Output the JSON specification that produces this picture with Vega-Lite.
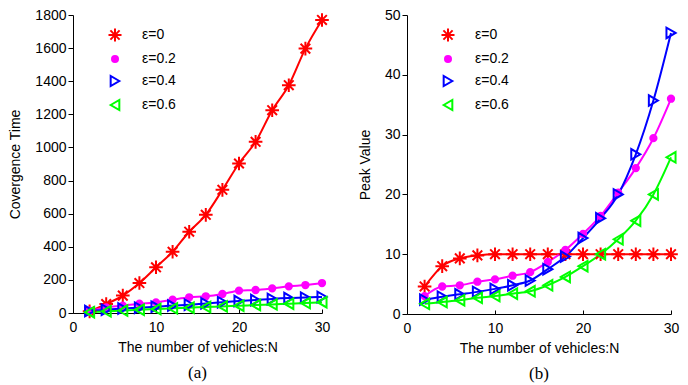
{
  "$schema": "https://vega.github.io/schema/vega-lite/v6.json",
  "padding": {"left": 8, "top": 8, "right": 4, "bottom": 2},
  "spacing": 25,
  "datasets": {
    "conv": [
      {"N":2,"eps":"ε=0","v":10},{"N":4,"eps":"ε=0","v":54},{"N":6,"eps":"ε=0","v":105},{"N":8,"eps":"ε=0","v":181},{"N":10,"eps":"ε=0","v":276},{"N":12,"eps":"ε=0","v":370},{"N":14,"eps":"ε=0","v":491},{"N":16,"eps":"ε=0","v":593},{"N":18,"eps":"ε=0","v":744},{"N":20,"eps":"ε=0","v":903},{"N":22,"eps":"ε=0","v":1034},{"N":24,"eps":"ε=0","v":1225},{"N":26,"eps":"ε=0","v":1376},{"N":28,"eps":"ε=0","v":1597},{"N":30,"eps":"ε=0","v":1770},
      {"N":2,"eps":"ε=0.2","v":14},{"N":4,"eps":"ε=0.2","v":34},{"N":6,"eps":"ε=0.2","v":44},{"N":8,"eps":"ε=0.2","v":56},{"N":10,"eps":"ε=0.2","v":64},{"N":12,"eps":"ε=0.2","v":80},{"N":14,"eps":"ε=0.2","v":95},{"N":16,"eps":"ε=0.2","v":101},{"N":18,"eps":"ε=0.2","v":115},{"N":20,"eps":"ε=0.2","v":135},{"N":22,"eps":"ε=0.2","v":139},{"N":24,"eps":"ε=0.2","v":149},{"N":26,"eps":"ε=0.2","v":161},{"N":28,"eps":"ε=0.2","v":169},{"N":30,"eps":"ε=0.2","v":181},
      {"N":2,"eps":"ε=0.4","v":12},{"N":4,"eps":"ε=0.4","v":20},{"N":6,"eps":"ε=0.4","v":27},{"N":8,"eps":"ε=0.4","v":32},{"N":10,"eps":"ε=0.4","v":38},{"N":12,"eps":"ε=0.4","v":45},{"N":14,"eps":"ε=0.4","v":50},{"N":16,"eps":"ε=0.4","v":58},{"N":18,"eps":"ε=0.4","v":65},{"N":20,"eps":"ε=0.4","v":72},{"N":22,"eps":"ε=0.4","v":78},{"N":24,"eps":"ε=0.4","v":85},{"N":26,"eps":"ε=0.4","v":90},{"N":28,"eps":"ε=0.4","v":93},{"N":30,"eps":"ε=0.4","v":97},
      {"N":2,"eps":"ε=0.6","v":5},{"N":4,"eps":"ε=0.6","v":10},{"N":6,"eps":"ε=0.6","v":15},{"N":8,"eps":"ε=0.6","v":20},{"N":10,"eps":"ε=0.6","v":24},{"N":12,"eps":"ε=0.6","v":28},{"N":14,"eps":"ε=0.6","v":32},{"N":16,"eps":"ε=0.6","v":36},{"N":18,"eps":"ε=0.6","v":40},{"N":20,"eps":"ε=0.6","v":44},{"N":22,"eps":"ε=0.6","v":48},{"N":24,"eps":"ε=0.6","v":52},{"N":26,"eps":"ε=0.6","v":56},{"N":28,"eps":"ε=0.6","v":60},{"N":30,"eps":"ε=0.6","v":65}
    ],
    "peak": [
      {"N":2,"eps":"ε=0","v":4.6},{"N":4,"eps":"ε=0","v":8.0},{"N":6,"eps":"ε=0","v":9.3},{"N":8,"eps":"ε=0","v":9.8},{"N":10,"eps":"ε=0","v":10},{"N":12,"eps":"ε=0","v":10},{"N":14,"eps":"ε=0","v":10},{"N":16,"eps":"ε=0","v":10},{"N":18,"eps":"ε=0","v":10},{"N":20,"eps":"ε=0","v":10},{"N":22,"eps":"ε=0","v":10},{"N":24,"eps":"ε=0","v":10},{"N":26,"eps":"ε=0","v":10},{"N":28,"eps":"ε=0","v":10},{"N":30,"eps":"ε=0","v":10},
      {"N":2,"eps":"ε=0.2","v":3.0},{"N":4,"eps":"ε=0.2","v":4.6},{"N":6,"eps":"ε=0.2","v":4.8},{"N":8,"eps":"ε=0.2","v":5.4},{"N":10,"eps":"ε=0.2","v":5.8},{"N":12,"eps":"ε=0.2","v":6.4},{"N":14,"eps":"ε=0.2","v":7.0},{"N":16,"eps":"ε=0.2","v":8.7},{"N":18,"eps":"ε=0.2","v":10.7},{"N":20,"eps":"ε=0.2","v":13.4},{"N":22,"eps":"ε=0.2","v":16.4},{"N":24,"eps":"ε=0.2","v":20.3},{"N":26,"eps":"ε=0.2","v":24.4},{"N":28,"eps":"ε=0.2","v":29.4},{"N":30,"eps":"ε=0.2","v":36.0},
      {"N":2,"eps":"ε=0.4","v":2.4},{"N":4,"eps":"ε=0.4","v":2.9},{"N":6,"eps":"ε=0.4","v":3.3},{"N":8,"eps":"ε=0.4","v":3.7},{"N":10,"eps":"ε=0.4","v":4.2},{"N":12,"eps":"ε=0.4","v":4.8},{"N":14,"eps":"ε=0.4","v":5.6},{"N":16,"eps":"ε=0.4","v":7.5},{"N":18,"eps":"ε=0.4","v":9.6},{"N":20,"eps":"ε=0.4","v":12.7},{"N":22,"eps":"ε=0.4","v":16.0},{"N":24,"eps":"ε=0.4","v":20.0},{"N":26,"eps":"ε=0.4","v":26.7},{"N":28,"eps":"ε=0.4","v":35.7},{"N":30,"eps":"ε=0.4","v":47.0},
      {"N":2,"eps":"ε=0.6","v":1.7},{"N":4,"eps":"ε=0.6","v":2.0},{"N":6,"eps":"ε=0.6","v":2.3},{"N":8,"eps":"ε=0.6","v":2.7},{"N":10,"eps":"ε=0.6","v":3.0},{"N":12,"eps":"ε=0.6","v":3.4},{"N":14,"eps":"ε=0.6","v":3.8},{"N":16,"eps":"ε=0.6","v":4.8},{"N":18,"eps":"ε=0.6","v":6.2},{"N":20,"eps":"ε=0.6","v":8.0},{"N":22,"eps":"ε=0.6","v":10.0},{"N":24,"eps":"ε=0.6","v":12.5},{"N":26,"eps":"ε=0.6","v":15.6},{"N":28,"eps":"ε=0.6","v":20.0},{"N":30,"eps":"ε=0.6","v":26.2}
    ]
  },
  "resolve": {
    "scale": {"stroke": "shared", "fill": "shared", "shape": "shared", "color": "shared"},
    "legend": {"stroke": "independent", "fill": "independent", "shape": "independent"}
  },
  "hconcat": [
    {
      "width": 249,
      "height": 298,
      "title": {"text": "(a)", "orient": "bottom", "font": "Liberation Serif", "fontSize": 17, "fontWeight": "normal", "color": "black", "offset": 11},
      "data": {"name": "conv"},
      "encoding": {
        "x": {"field": "N", "type": "quantitative", "scale": {"domain": [0, 30], "nice": false}, "axis": {"title": "The number of vehicles:N", "values": [0, 10, 20, 30], "tickSize": -4, "labelFlush": false, "labelPadding": 11, "titlePadding": 6}},
        "y": {"field": "v", "type": "quantitative", "scale": {"domain": [0, 1800], "nice": false}, "axis": {"title": "Covergence Time", "format": "d", "values": [0, 200, 400, 600, 800, 1000, 1200, 1400, 1600, 1800], "tickSize": 5, "labelPadding": 2, "titlePadding": 12}}
      },
      "layer": [
        {
          "mark": {"type": "line", "interpolate": "monotone", "strokeWidth": 2},
          "encoding": {
            "color": {"field": "eps", "type": "nominal", "scale": {"domain": ["ε=0", "ε=0.2", "ε=0.4", "ε=0.6"], "range": ["#ff0000", "#ff00ff", "#0000ff", "#00ff00"]}, "legend": null}
          }
        },
        {
          "mark": {"type": "point", "strokeWidth": 2, "opacity": 1, "size": 110},
          "encoding": {
            "stroke": {"field": "eps", "type": "nominal", "scale": {"domain": ["ε=0", "ε=0.2", "ε=0.4", "ε=0.6"], "range": ["#ff0000", "#ff00ff", "#0000ff", "#00ff00"]}, "legend": {"title": null, "orient": "none", "legendX": 35, "legendY": 13}},
            "fill": {"field": "eps", "type": "nominal", "scale": {"domain": ["ε=0", "ε=0.2", "ε=0.4", "ε=0.6"], "range": ["transparent", "#ff00ff", "transparent", "transparent"]}, "legend": {"title": null, "orient": "none", "legendX": 35, "legendY": 13}},
            "shape": {"field": "eps", "type": "nominal", "scale": {"domain": ["ε=0", "ε=0.2", "ε=0.4", "ε=0.6"], "range": ["M-1.3,0L1.3,0M0,-1.3L0,1.3M-0.92,-0.92L0.92,0.92M-0.92,0.92L0.92,-0.92", "M0.6,0A0.6,0.6 0 1,1 -0.6,0A0.6,0.6 0 1,1 0.6,0Z", "triangle-right", "triangle-left"]}, "legend": {"title": null, "orient": "none", "legendX": 35, "legendY": 13}}
          }
        }
      ]
    },
    {
      "width": 264,
      "height": 299,
      "title": {"text": "(b)", "orient": "bottom", "font": "Liberation Serif", "fontSize": 17, "fontWeight": "normal", "color": "black", "offset": 11},
      "data": {"name": "peak"},
      "encoding": {
        "x": {"field": "N", "type": "quantitative", "scale": {"domain": [0, 30], "nice": false}, "axis": {"title": "The number of vehicles:N", "values": [0, 10, 20, 30], "tickSize": -4, "labelFlush": false, "labelPadding": 11, "titlePadding": 6}},
        "y": {"field": "v", "type": "quantitative", "scale": {"domain": [0, 50], "nice": false}, "axis": {"title": "Peak Value", "values": [0, 10, 20, 30, 40, 50], "tickSize": 5, "labelPadding": 2, "titlePadding": 12}}
      },
      "layer": [
        {
          "mark": {"type": "line", "interpolate": "monotone", "strokeWidth": 2},
          "encoding": {
            "color": {"field": "eps", "type": "nominal", "scale": {"domain": ["ε=0", "ε=0.2", "ε=0.4", "ε=0.6"], "range": ["#ff0000", "#ff00ff", "#0000ff", "#00ff00"]}, "legend": null}
          }
        },
        {
          "mark": {"type": "point", "strokeWidth": 2, "opacity": 1, "size": 110},
          "encoding": {
            "stroke": {"field": "eps", "type": "nominal", "scale": {"domain": ["ε=0", "ε=0.2", "ε=0.4", "ε=0.6"], "range": ["#ff0000", "#ff00ff", "#0000ff", "#00ff00"]}, "legend": {"title": null, "orient": "none", "legendX": 34, "legendY": 13}},
            "fill": {"field": "eps", "type": "nominal", "scale": {"domain": ["ε=0", "ε=0.2", "ε=0.4", "ε=0.6"], "range": ["transparent", "#ff00ff", "transparent", "transparent"]}, "legend": {"title": null, "orient": "none", "legendX": 34, "legendY": 13}},
            "shape": {"field": "eps", "type": "nominal", "scale": {"domain": ["ε=0", "ε=0.2", "ε=0.4", "ε=0.6"], "range": ["M-1.3,0L1.3,0M0,-1.3L0,1.3M-0.92,-0.92L0.92,0.92M-0.92,0.92L0.92,-0.92", "M0.6,0A0.6,0.6 0 1,1 -0.6,0A0.6,0.6 0 1,1 0.6,0Z", "triangle-right", "triangle-left"]}, "legend": {"title": null, "orient": "none", "legendX": 34, "legendY": 13}}
          }
        }
      ]
    }
  ],
  "config": {
    "font": "Liberation Sans",
    "background": "white",
    "view": {"stroke": null},
    "axis": {"grid": false, "domainColor": "black", "domainWidth": 1, "tickColor": "black", "tickWidth": 1, "labelColor": "black", "titleColor": "black", "labelFontSize": 14, "titleFontSize": 14, "titleFontWeight": "normal", "labelFont": "Liberation Sans", "titleFont": "Liberation Sans"},
    "legend": {"labelFontSize": 14, "labelFont": "Liberation Sans", "labelColor": "black", "rowPadding": 6, "labelOffset": 20, "symbolStrokeWidth": 2, "padding": 0}
  }
}
